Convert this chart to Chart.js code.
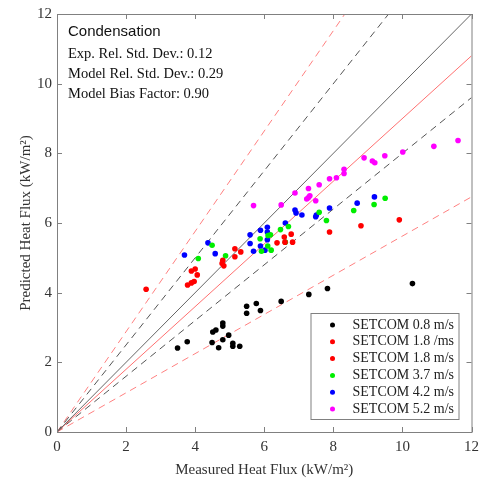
<!DOCTYPE html>
<html>
<head>
<meta charset="utf-8">
<script src="https://cdn.jsdelivr.net/npm/chart.js@4.4.0/dist/chart.umd.min.js"></script>
<style>
  html, body { margin: 0; padding: 0; background: #fff; }
  #wrap { width: 485px; height: 483px; }
</style>
</head>
<body>
<div id="wrap"><canvas id="heatFluxChart" width="485" height="483"></canvas></div>
<script>
// Measured vs predicted heat flux, condensation runs (kW/m2)
const setcom08 = [[3.49, 2.41], [3.77, 2.59], [4.49, 2.57], [4.51, 2.87], [4.6, 2.93], [4.68, 2.42],
    [4.8, 3.13], [4.8, 3.04], [4.8, 2.65], [4.97, 2.78], [5.09, 2.55], [5.09, 2.46], [5.29, 2.46],
    [5.49, 3.61], [5.49, 3.41], [5.77, 3.69], [5.89, 3.49], [6.49, 3.75], [7.29, 3.95], [7.83, 4.12],
    [10.29, 4.26]];
const setcom18a = [[2.58, 4.1], [3.78, 4.22], [3.89, 4.28], [3.97, 4.32], [3.89, 4.62], [4.0, 4.68],
    [4.06, 4.51], [4.78, 4.84], [4.83, 4.77], [4.8, 4.93]];
const setcom18b = [[5.15, 5.03], [5.15, 5.26], [5.32, 5.17], [6.37, 5.43], [6.58, 5.6], [6.78, 5.68],
    [6.82, 5.45], [6.6, 5.45], [7.89, 5.74], [8.8, 5.92], [9.91, 6.09]];
const setcom37 = [[4.09, 4.98], [4.49, 5.36], [4.88, 5.06], [5.88, 5.55], [5.92, 5.19], [6.1, 5.34],
    [6.11, 5.64], [6.18, 5.66], [6.2, 5.22], [6.47, 5.81], [6.61, 5.45], [6.7, 5.9], [7.59, 6.31],
    [7.8, 6.07], [8.59, 6.36], [9.18, 6.53], [9.5, 6.71]];
const setcom42 = [[3.69, 5.08], [4.37, 5.43], [4.58, 5.12], [5.59, 5.66], [5.59, 5.41], [5.69, 5.19],
    [5.89, 5.79], [5.89, 5.34], [6.02, 5.22], [6.09, 5.88], [6.09, 5.74], [6.09, 5.52], [6.61, 6.0],
    [6.89, 6.37], [6.92, 6.29], [7.09, 6.23], [7.49, 6.18], [7.51, 6.23], [7.89, 6.43], [8.69, 6.57],
    [9.19, 6.75]];
const setcom52 = [[5.69, 6.5], [6.49, 6.52], [6.89, 6.86], [7.23, 6.69], [7.28, 6.73], [7.32, 6.78],
    [7.49, 6.64], [7.28, 6.99], [7.59, 7.1], [7.89, 7.27], [8.09, 7.3], [8.31, 7.42], [8.31, 7.54],
    [8.89, 7.87], [9.13, 7.78], [9.2, 7.73], [9.49, 7.93], [10.01, 8.04], [10.91, 8.2], [11.61, 8.37]];

const seriesLabels = ['SETCOM 0.8 m/s', 'SETCOM 1.8 /ms', 'SETCOM 1.8 m/s', 'SETCOM 3.7 m/s', 'SETCOM 4.2 m/s', 'SETCOM 5.2 m/s'];

// reference lines through the origin: parity, bias, and the two bands
const paritySlope = 1;
const biasSlope = 0.9;
const expBandSlopes = [1.25, 0.8];
const modelBandSlopes = [1.44, 0.5625];

const axisMax = 12;
const panelTitle = 'Condensation';
const statLines = ['Exp. Rel. Std. Dev.: 0.12', 'Model Rel. Std. Dev.: 0.29', 'Model Bias Factor: 0.90'];

const serif = '"Liberation Serif", "Times New Roman", serif';
const frameColor = '#808080';

function toPoints(arr) {
    return arr.map(([x, y]) => ({ x: x, y: y }));
}

function refLine(slope, color, dashed) {
    const end = slope >= 1 ? { x: axisMax / slope, y: axisMax } : { x: axisMax, y: axisMax * slope };
    return {
        data: [{ x: 0, y: 0 }, end],
        showLine: true,
        borderColor: color,
        borderWidth: 1,
        borderDash: dashed ? [7, 5] : [],
        pointRadius: 0,
        order: 2,
        isRef: true
    };
}

function pointSet(label, arr, color) {
    return {
        label: label,
        data: toPoints(arr),
        backgroundColor: color,
        borderWidth: 0,
        pointRadius: 2.8,
        order: 0
    };
}

const pointColors = ['#000000', '#ff0000', '#ff0000', '#00ee00', '#0000ff', '#ff00ff'];
const pointSeries = [setcom08, setcom18a, setcom18b, setcom37, setcom42, setcom52];

const datasets = pointSeries.map((arr, i) => pointSet(seriesLabels[i], arr, pointColors[i]));
datasets.push(refLine(paritySlope, '#666666', false));
datasets.push(refLine(biasSlope, '#ff7070', false));
expBandSlopes.forEach(s => datasets.push(refLine(s, '#555555', true)));
modelBandSlopes.forEach(s => datasets.push(refLine(s, '#ff8080', true)));

// Frame with inward ticks on all four sides
const frameTicks = {
    id: 'frameTicks',
    afterDraw(chart) {
        const { ctx, chartArea: a, scales } = chart;
        ctx.save();
        ctx.strokeStyle = frameColor;
        ctx.lineWidth = 1;
        ctx.strokeRect(a.left + 0.5, a.top + 0.5, a.right - a.left, a.bottom - a.top);
        ctx.beginPath();
        scales.x.ticks.forEach(t => {
            const px = Math.round(scales.x.getPixelForValue(t.value)) + 0.5;
            ctx.moveTo(px, a.bottom); ctx.lineTo(px, a.bottom - 5);
            ctx.moveTo(px, a.top); ctx.lineTo(px, a.top + 5);
        });
        scales.y.ticks.forEach(t => {
            const py = Math.round(scales.y.getPixelForValue(t.value)) + 0.5;
            ctx.moveTo(a.left, py); ctx.lineTo(a.left + 5, py);
            ctx.moveTo(a.right, py); ctx.lineTo(a.right - 5, py);
        });
        ctx.stroke();
        ctx.restore();
    }
};

// Stats text in the top left corner
const statsText = {
    id: 'statsText',
    afterDraw(chart) {
        const { ctx, chartArea: a } = chart;
        ctx.save();
        ctx.fillStyle = '#111';
        ctx.textBaseline = 'middle';
        ctx.textAlign = 'left';
        ctx.font = '15px "Liberation Sans", Arial, sans-serif';
        ctx.fillText(panelTitle, a.left + 11, a.top + 18);
        ctx.font = '14.5px ' + serif;
        statLines.forEach((line, i) => {
            ctx.fillText(line, a.left + 11, a.top + 40 + i * 20);
        });
        ctx.restore();
    }
};

// Boxed legend in the lower right corner
const boxLegend = {
    id: 'boxLegend',
    afterDraw(chart) {
        const { ctx, chartArea: a } = chart;
        const sets = chart.data.datasets.filter(d => !d.isRef);
        const w = 148, h = 106;
        const x0 = a.right - 13 - w, y0 = a.bottom - 13 - h;
        ctx.save();
        ctx.fillStyle = '#fff';
        ctx.fillRect(x0, y0, w, h);
        ctx.strokeStyle = frameColor;
        ctx.lineWidth = 1;
        ctx.strokeRect(x0 + 0.5, y0 + 0.5, w, h);
        ctx.font = '14px ' + serif;
        ctx.textBaseline = 'middle';
        ctx.textAlign = 'left';
        sets.forEach((d, i) => {
            const cy = y0 + 12 + i * 16.8;
            ctx.fillStyle = d.backgroundColor;
            ctx.beginPath();
            ctx.arc(x0 + 22, cy, 2.5, 0, Math.PI * 2);
            ctx.fill();
            ctx.fillStyle = '#222';
            ctx.fillText(d.label, x0 + 42, cy);
        });
        ctx.restore();
    }
};

const tickFont = { family: serif, size: 15 };

new Chart(document.getElementById('heatFluxChart'), {
    type: 'scatter',
    data: { datasets: datasets },
    options: {
        responsive: false,
        animation: false,
        layout: { padding: { top: 10, right: 8, left: 0, bottom: 0 } },
        plugins: {
            legend: { display: false },
            tooltip: { enabled: false }
        },
        scales: {
            x: {
                type: 'linear',
                min: 0,
                max: axisMax,
                ticks: { stepSize: 2, padding: 6, color: '#333', font: tickFont },
                grid: { display: false, drawTicks: false },
                border: { display: false },
                title: {
                    display: true,
                    text: 'Measured Heat Flux (kW/m²)',
                    color: '#333',
                    font: tickFont,
                    padding: { top: 0, bottom: 4 }
                },
                afterFit: (scale) => { scale.height = 51; }
            },
            y: {
                type: 'linear',
                min: 0,
                max: axisMax,
                ticks: { stepSize: 2, padding: 5, color: '#333', font: tickFont },
                grid: { display: false, drawTicks: false },
                border: { display: false },
                title: {
                    display: true,
                    text: 'Predicted Heat Flux (kW/m²)',
                    color: '#333',
                    font: tickFont,
                    padding: { top: 17, bottom: 0 }
                },
                afterFit: (scale) => { scale.width = 57; }
            }
        }
    },
    plugins: [frameTicks, statsText, boxLegend]
});
</script>
</body>
</html>
